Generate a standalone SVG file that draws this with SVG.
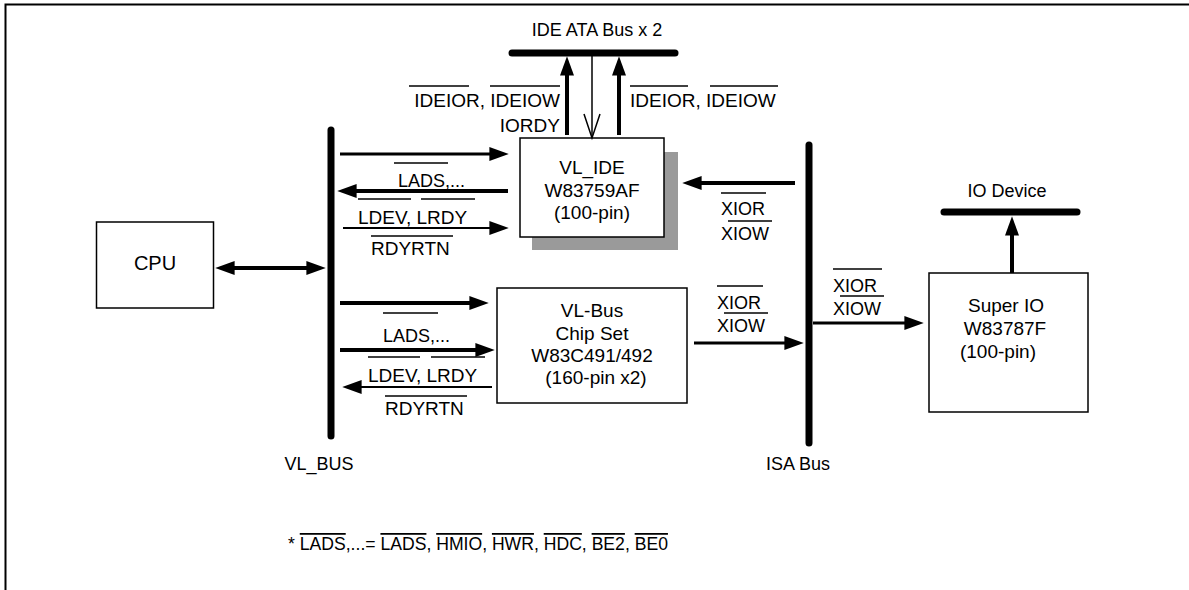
<svg xmlns="http://www.w3.org/2000/svg" width="1189" height="590" viewBox="0 0 1189 590">
<style>
text{font-family:"Liberation Sans",Arial,sans-serif;fill:#000}
.box{font-size:19px;text-anchor:middle}
.lbl{font-size:18px}
.lbl2{font-size:19px}
.ov{stroke:#000;stroke-width:1.5;fill:none}
.bus{stroke:#000;stroke-width:7;stroke-linecap:round;fill:none}
.rect{fill:#fff;stroke:#000;stroke-width:1.5}
.c{stroke:#000;fill:none}
</style>
<defs>
<marker id="ah" markerUnits="userSpaceOnUse" markerWidth="20" markerHeight="14" viewBox="0 0 18 13" refX="8" refY="6.5" orient="auto-start-reverse"><path d="M0,0 L18,6.5 L0,13 z" fill="#000"/></marker>
</defs>
<rect width="1189" height="590" fill="#fff"/>
<path d="M5.5,590 V4.5 H1189" stroke="#000" stroke-width="2" fill="none"/>

<g id="cpu">
<rect class="rect" x="96.5" y="222" width="117" height="86"/>
<text x="155" y="270" font-size="20" text-anchor="middle">CPU</text>
</g>

<g id="vl_bus">
<line class="bus" x1="331" y1="130" x2="331" y2="436"/>
<text x="319" y="470" class="lbl" text-anchor="middle">VL_BUS</text>
</g>

<g id="isa_bus">
<line class="bus" x1="809" y1="145" x2="809" y2="443"/>
<text x="798" y="470" class="lbl" text-anchor="middle">ISA Bus</text>
</g>

<g id="ide_bus">
<line class="bus" x1="512" y1="53" x2="675" y2="53"/>
<text x="597" y="36" class="lbl" text-anchor="middle">IDE ATA Bus x 2</text>
</g>

<g id="io_device">
<line class="bus" x1="944" y1="212" x2="1077" y2="212"/>
<text x="1007" y="197" class="lbl" text-anchor="middle">IO Device</text>
</g>

<g id="vl_ide">
<rect x="532" y="152" width="146" height="98" fill="#9a9a9a"/>
<rect class="rect" x="520" y="138" width="144" height="99"/>
<text class="box" x="592" y="174">VL_IDE</text>
<text class="box" x="592" y="197">W83759AF</text>
<text class="box" x="592" y="219">(100-pin)</text>
</g>

<g id="chipset">
<rect class="rect" x="497" y="288" width="190" height="115"/>
<text class="box" x="592" y="317">VL-Bus</text>
<text class="box" x="592" y="340">Chip Set</text>
<text class="box" x="592" y="362">W83C491/492</text>
<text class="box" x="596" y="384">(160-pin x2)</text>
</g>

<g id="super_io">
<rect class="rect" x="929" y="273" width="159" height="139"/>
<text class="box" x="1006" y="312">Super IO</text>
<text class="box" x="1005" y="335">W83787F</text>
<text class="box" x="998" y="358">(100-pin)</text>
</g>

<g id="connectors">
<line class="c" stroke-width="4" x1="226" y1="268" x2="315" y2="268" marker-start="url(#ah)" marker-end="url(#ah)"/>
<line class="c" stroke-width="3" x1="340" y1="154" x2="498" y2="154" marker-end="url(#ah)"/>
<line class="c" stroke-width="4" x1="508" y1="191" x2="348" y2="191" marker-end="url(#ah)"/>
<line class="c" stroke-width="2" x1="343" y1="228" x2="498" y2="228" marker-end="url(#ah)"/>
<line class="c" stroke-width="4" x1="340" y1="303" x2="478" y2="303" marker-end="url(#ah)"/>
<line class="c" stroke-width="4" x1="340" y1="350" x2="484" y2="350" marker-end="url(#ah)"/>
<line class="c" stroke-width="2" x1="492" y1="387" x2="353" y2="387" marker-end="url(#ah)"/>
<line class="c" stroke-width="4" x1="567" y1="135" x2="567" y2="67" marker-end="url(#ah)"/>
<line class="c" stroke-width="4" x1="619" y1="135" x2="619" y2="67" marker-end="url(#ah)"/>
<line class="c" stroke-width="1.5" x1="592" y1="56" x2="592" y2="138"/>
<path class="c" stroke-width="1.5" d="M584,114 L592,138 L600,114"/>
<line class="c" stroke-width="4" x1="795" y1="183" x2="693" y2="183" marker-end="url(#ah)"/>
<line class="c" stroke-width="3" x1="694" y1="343" x2="793" y2="343" marker-end="url(#ah)"/>
<line class="c" stroke-width="3" x1="813" y1="323" x2="913" y2="323" marker-end="url(#ah)"/>
<line class="c" stroke-width="4" x1="1012" y1="273" x2="1012" y2="227" marker-end="url(#ah)"/>
</g>

<g id="labels">
<text class="lbl2" x="560" y="107" text-anchor="end" font-size="19.5">IDEIOR, IDEIOW</text>
<line class="ov" x1="409" y1="86" x2="469" y2="86"/><line class="ov" x1="490" y1="86" x2="560" y2="86"/>
<text class="lbl2" x="560" y="132" text-anchor="end" font-size="19.5">IORDY</text>
<text class="lbl2" x="630" y="107">IDEIOR, IDEIOW</text>
<line class="ov" x1="630" y1="86" x2="688" y2="86"/><line class="ov" x1="710" y1="86" x2="778" y2="86"/>

<text class="lbl" x="398" y="187">LADS,...</text>
<line class="ov" x1="394" y1="163" x2="448" y2="163"/>
<text class="lbl2" x="358" y="224">LDEV, LRDY</text>
<line class="ov" x1="358" y1="199" x2="411" y2="199"/><line class="ov" x1="421" y1="199" x2="475" y2="199"/>
<text class="lbl2" x="371" y="255">RDYRTN</text>
<line class="ov" x1="371" y1="236" x2="453" y2="236"/>

<text class="lbl" x="383" y="342">LADS,...</text>
<line class="ov" x1="383" y1="313" x2="438" y2="313"/>
<text class="lbl2" x="368" y="382">LDEV, LRDY</text>
<line class="ov" x1="368" y1="357" x2="420" y2="357"/><line class="ov" x1="431" y1="357" x2="485" y2="357"/>
<text class="lbl2" x="385" y="415">RDYRTN</text>
<line class="ov" x1="385" y1="396" x2="467" y2="396"/>

<text class="lbl" x="721" y="215">XIOR</text>
<line class="ov" x1="721" y1="193" x2="766" y2="193"/>
<text class="lbl" x="721" y="240">XIOW</text>
<line class="ov" x1="728" y1="221" x2="772" y2="221"/>

<text class="lbl" x="717" y="309">XIOR</text>
<line class="ov" x1="717" y1="286" x2="763" y2="286"/>
<text class="lbl" x="717" y="332">XIOW</text>
<line class="ov" x1="724" y1="313" x2="768" y2="313"/>

<text class="lbl" x="833" y="292">XIOR</text>
<line class="ov" x1="833" y1="269" x2="882" y2="269"/>
<text class="lbl" x="833" y="315">XIOW</text>
<line class="ov" x1="840" y1="296" x2="884" y2="296"/>

<text x="288" y="550" font-size="17.6">* <tspan text-decoration="overline">LADS</tspan>,...= <tspan text-decoration="overline">LADS</tspan>, <tspan text-decoration="overline">HMIO</tspan>, <tspan text-decoration="overline">HWR</tspan>, <tspan text-decoration="overline">HDC</tspan>, <tspan text-decoration="overline">BE2</tspan>, <tspan text-decoration="overline">BE0</tspan></text>
</g>
</svg>
